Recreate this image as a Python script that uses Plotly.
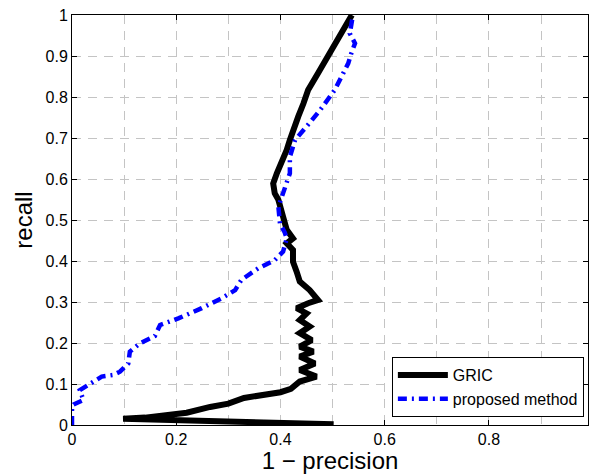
import plotly.graph_objects as go

# GRIC curve (1 - precision, recall)
gric_x = [0.502, 0.098, 0.14, 0.188, 0.22, 0.265, 0.30, 0.33, 0.37, 0.40, 0.42, 0.433, 0.437,
          0.469, 0.437, 0.466, 0.437, 0.463, 0.437, 0.46, 0.437, 0.456, 0.437, 0.45, 0.431,
          0.453, 0.472, 0.456, 0.437, 0.431, 0.424, 0.424, 0.412, 0.424, 0.412, 0.405, 0.396,
          0.389, 0.386, 0.393, 0.402, 0.412, 0.418, 0.424, 0.434, 0.444, 0.453, 0.472, 0.495,
          0.514, 0.537]
gric_y = [0.002, 0.015, 0.018, 0.024, 0.03, 0.044, 0.052, 0.066, 0.072, 0.08, 0.088, 0.102, 0.106,
          0.118, 0.134, 0.150, 0.167, 0.179, 0.191, 0.207, 0.224, 0.24, 0.256, 0.272, 0.285,
          0.297, 0.305, 0.329, 0.35, 0.374, 0.398, 0.427, 0.443, 0.455, 0.476, 0.508, 0.549,
          0.565, 0.589, 0.614, 0.638, 0.671, 0.695, 0.72, 0.752, 0.784, 0.817, 0.858, 0.907,
          0.947, 1.0]

# Proposed method curve
prop_x = [0.0, 0.0, 0.003, 0.022, 0.015, 0.031, 0.057, 0.079, 0.092, 0.108, 0.111, 0.13, 0.159,
          0.169, 0.204, 0.249, 0.287, 0.313, 0.325, 0.357, 0.389, 0.405, 0.412, 0.408, 0.399,
          0.396, 0.408, 0.418, 0.418, 0.428, 0.45, 0.476, 0.504, 0.53, 0.536, 0.543, 0.533,
          0.536, 0.539]
prop_y = [0.0, 0.045, 0.05, 0.061, 0.085, 0.098, 0.118, 0.122, 0.13, 0.15, 0.179, 0.199, 0.217,
          0.244, 0.26, 0.285, 0.309, 0.329, 0.354, 0.382, 0.402, 0.423, 0.455, 0.47, 0.492,
          0.532, 0.573, 0.614, 0.654, 0.695, 0.728, 0.768, 0.817, 0.882, 0.907, 0.931, 0.955,
          0.976, 1.0]

x_tickvals = [0, 0.2, 0.4, 0.6, 0.8]
x_ticktext = ["0", "0.2", "0.4", "0.6", "0.8"]
y_tickvals = [0, 0.1, 0.2, 0.3, 0.4, 0.5, 0.6, 0.7, 0.8, 0.9, 1]
y_ticktext = ["0", "0.1", "0.2", "0.3", "0.4", "0.5", "0.6", "0.7", "0.8", "0.9", "1"]

FONT = "Liberation Sans, Arial, Helvetica, sans-serif"
GRID = "#c4c4c4"

fig = go.Figure()
fig.add_trace(go.Scatter(x=gric_x, y=gric_y, mode="lines", name="GRIC",
                         line=dict(color="black", width=6)))
fig.add_trace(go.Scatter(x=prop_x, y=prop_y, mode="lines", name="proposed method",
                         line=dict(color="#0000ff", width=4.5, dash="9px,5px,2px,5px")))

fig.update_layout(
    width=589, height=474,
    margin=dict(l=72, r=1, t=15, b=49),
    paper_bgcolor="white", plot_bgcolor="white",
    font=dict(family=FONT, color="black", size=16),
    showlegend=True,
    legend=dict(x=0.992, y=0.0195, xanchor="right", yanchor="bottom",
                bgcolor="white", bordercolor="black", borderwidth=1,
                font=dict(size=16, family=FONT), tracegroupgap=0,
                itemwidth=50),
    xaxis=dict(range=[0, 0.99], tickvals=x_tickvals, ticktext=x_ticktext,
               ticks="inside", ticklen=5, tickcolor="black",
               showline=True, linecolor="black", linewidth=1, mirror="ticks",
               showgrid=True, gridcolor=GRID, griddash="9px,7px", gridwidth=1,
               minor=dict(dtick=0.1, tick0=0, showgrid=True, gridcolor=GRID,
                          griddash="9px,7px", gridwidth=1, ticks=""),
               zeroline=False, tickfont=dict(size=16),
               title=dict(text="1 \u2212 precision", font=dict(size=24), standoff=2)),
    yaxis=dict(range=[0, 1], tickvals=y_tickvals, ticktext=y_ticktext,
               ticks="inside", ticklen=5, tickcolor="black",
               showline=True, linecolor="black", linewidth=1, mirror="ticks",
               showgrid=True, gridcolor=GRID, griddash="9px,7px", gridwidth=1,
               zeroline=False, tickfont=dict(size=16),
               title=dict(text="recall", font=dict(size=24), standoff=6)),
)

fig.write_html("out.html", config={"responsive": False, "displayModeBar": False},
               post_script="document.body.style.margin='0';document.body.style.padding='0';")
